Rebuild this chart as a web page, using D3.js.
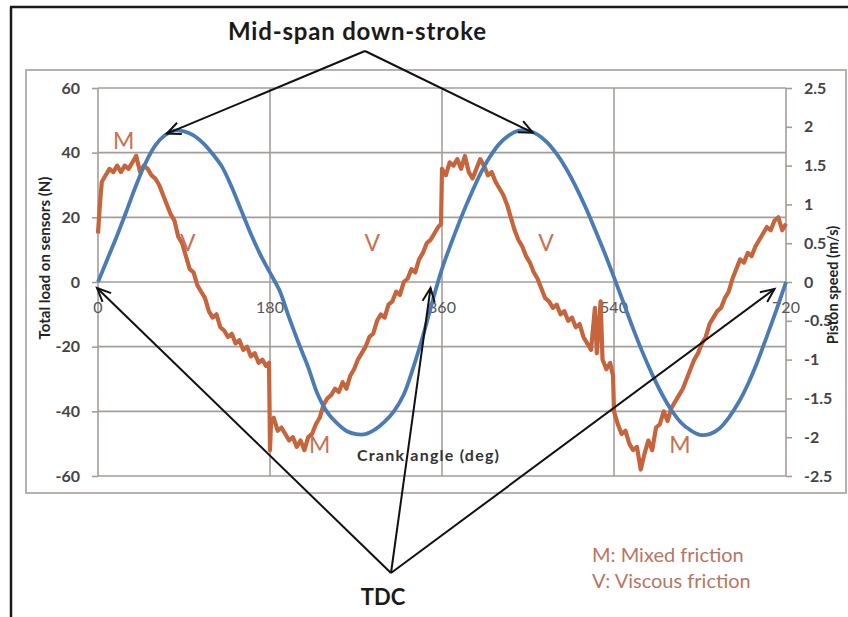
<!DOCTYPE html>
<html><head><meta charset="utf-8">
<script src="https://cdn.jsdelivr.net/npm/d3@7"></script>
<style>
html,body{margin:0;padding:0;background:#fff;}
svg{display:block;font-family:Lato,"Open Sans",sans-serif;}
</style></head>
<body>
<svg id="c" width="848" height="617"></svg>
<script>
// ---------- data ----------
const xTicks = [0, 180, 360, 540, 720];
const loadTicks = [-60, -40, -20, 0, 20, 40, 60];
const loadTickLabels = ["-60", "-40", "-20", "0", "20", "40", "60"];
const speedTicks = [-2.5, -2, -1.5, -1, -0.5, 0, 0.5, 1, 1.5, 2, 2.5];
const speedTickLabels = ["-2.5","-2","-1.5","-1","-0.5","0","0.5","1","1.5","2","2.5"];

// Piston speed (m/s), every 10 deg
const speedAngle = d3.range(0, 721, 10);
const speedValue = [
  0, 0.30, 0.60, 0.92, 1.25, 1.54, 1.76, 1.89, 1.95, 1.94, 1.89, 1.79, 1.65, 1.48, 1.22, 0.92, 0.62, 0.35, 0.12,
  -0.11, -0.46, -0.79, -1.10, -1.45, -1.68, -1.82, -1.92, -1.96, -1.96, -1.90, -1.80, -1.66, -1.45, -1.10, -0.70, -0.25,
  0.17, 0.51, 0.83, 1.12, 1.39, 1.61, 1.78, 1.89, 1.95, 1.95, 1.90, 1.80, 1.65, 1.46, 1.23, 0.97, 0.68, 0.38, 0.06,
  -0.27, -0.60, -0.91, -1.19, -1.44, -1.65, -1.81, -1.91, -1.97, -1.96, -1.89, -1.75, -1.56, -1.32, -1.03, -0.70, -0.36, 0
];

// Total load on sensors (N)
const loadAngle = [
  0,2,4,8,12,16,20,24,28,32,36,40,44,48,52,56,60,64,68,72,76,80,84,88,92,96,100,104,108,112,116,120,124,128,132,136,140,144,148,152,156,160,164,168,172,176,179,
  180,181,184,188,192,196,200,204,208,212,216,220,224,228,232,236,240,244,248,252,256,260,264,268,272,276,280,284,288,292,296,300,304,308,312,316,320,324,328,332,336,340,344,348,352,356,359,
  360,364,368,372,376,380,384,388,392,396,400,404,408,412,416,420,424,428,432,436,440,444,448,452,456,460,464,468,472,476,480,484,488,492,496,500,504,508,512,516,520,522,526,528,532,536,539,
  540,544,548,552,556,560,564,568,572,576,580,584,588,592,596,600,604,608,612,616,620,624,628,632,636,640,644,648,652,656,660,664,668,672,676,680,684,688,692,696,700,704,708,712,716,720
];
const loadValue = [
  15,24,31,33,35,34,36,34,36,35,37,39,34,36,35,33,32,30,27,24,21,19,14,12,8,4,3,-1,-3,-5,-9,-11,-10,-14,-15,-17,-16,-19,-18,-21,-20,-23,-22,-25,-24,-26,-25,
  -52,-44,-42,-46,-45,-47,-49,-48,-51,-49,-52,-48,-47,-44,-42,-38,-36,-35,-33,-34,-31,-33,-29,-27,-24,-22,-20,-17,-16,-12,-10,-11,-7,-6,-3,-4,0,1,4,3,7,9,12,13,15,17,18,
  35,33,37,36,38,35,39,34,32,35,38,36,33,34,31,29,27,24,20,16,13,11,8,6,3,1,-2,-5,-6,-8,-7,-10,-9,-12,-11,-14,-13,-17,-19,-21,-8,-22,-6,-24,-27,-25,-29,
  -40,-44,-47,-46,-50,-52,-51,-58,-53,-49,-52,-45,-44,-40,-43,-39,-37,-35,-33,-30,-27,-24,-22,-19,-17,-13,-11,-9,-8,-5,-3,1,4,7,6,9,8,11,13,15,17,16,19,20,16,18
];

// In-plot region labels
const regionLabel = ["M", "V", "V", "V", "M", "M"];
const regionAngle = [27, 94, 287, 469, 232, 609];
const regionLoad  = [41, 9.5, 9.5, 9.5, -53, -53];

const legendLines = ["M: Mixed friction", "V: Viscous friction"];

// ---------- layout ----------
const svg = d3.select("#c");
const x = d3.scaleLinear().domain([0, 720]).range([98, 786]);
const yL = d3.scaleLinear().domain([-60, 60]).range([476, 88]);
const yR = d3.scaleLinear().domain([-2.5, 2.5]).range([476, 88]);

const gridCol = "#a59d99";
const orange = "#c6643c";
const blue = "#4a7bb4";
const labCol = "#c8714f";

// outer frame lines
svg.append("line").attr("x1", 10).attr("x2", 848).attr("y1", 7).attr("y2", 7).attr("stroke", "#1a1a1a").attr("stroke-width", 2.5);
svg.append("line").attr("x1", 11).attr("x2", 11).attr("y1", 7).attr("y2", 617).attr("stroke", "#1a1a1a").attr("stroke-width", 2.5);

// chart box
svg.append("rect").attr("x", 26).attr("y", 70).attr("width", 820).attr("height", 423)
  .attr("fill", "none").attr("stroke", "#b8b1ae").attr("stroke-width", 2);

// grid
const g = svg.append("g");
g.selectAll(".hg").data(loadTicks).join("line")
  .attr("x1", x(0)).attr("x2", x(720)).attr("y1", d => yL(d)).attr("y2", d => yL(d))
  .attr("stroke", gridCol).attr("stroke-width", 1.6);
g.selectAll(".vg").data(xTicks).join("line")
  .attr("x1", d => x(d)).attr("x2", d => x(d)).attr("y1", yL(60)).attr("y2", yL(-60))
  .attr("stroke", gridCol).attr("stroke-width", 1.6);

// left axis ticks + labels
const axL = d3.axisLeft(yL).tickValues(loadTicks).tickFormat((d, i) => loadTickLabels[i]).tickSize(6).tickPadding(12);
const gL = svg.append("g").attr("transform", `translate(${x(0)},0)`).call(axL);
gL.select(".domain").remove();
gL.selectAll(".tick line").attr("stroke", gridCol).attr("stroke-width", 1.6);
gL.selectAll(".tick text").attr("font-family", "Lato").attr("font-weight", "bold")
  .attr("font-size", 16).attr("fill", "#444");

// right axis
const axR = d3.axisRight(yR).tickValues(speedTicks).tickFormat((d, i) => speedTickLabels[i]).tickSize(6).tickPadding(12);
const gR = svg.append("g").attr("transform", `translate(${x(720)},0)`).call(axR);
gR.select(".domain").remove();
gR.selectAll(".tick line").attr("stroke", gridCol).attr("stroke-width", 1.6);
gR.selectAll(".tick text").attr("font-family", "Lato").attr("font-weight", "bold")
  .attr("font-size", 16).attr("fill", "#444");

// x tick labels under zero line
svg.append("g").selectAll("text").data(xTicks).join("text")
  .attr("x", d => x(d)).attr("y", yL(0) + 31)
  .attr("text-anchor", "middle").attr("font-size", 16).attr("fill", "#555")
  .text(d => d);

// axis titles
svg.append("text").attr("x", 357).attr("y", 461).attr("font-size", 16).attr("font-weight", "bold")
  .attr("textLength", 142).attr("lengthAdjust", "spacing")
  .attr("fill", "#333").text("Crank angle  (deg)");
svg.append("text").attr("transform", "translate(50,258) rotate(-90)").attr("text-anchor", "middle")
  .attr("font-size", 15).attr("font-weight", "bold").attr("fill", "#222").text("Total load on sensors (N)");
svg.append("text").attr("transform", "translate(838,285) rotate(-90)").attr("text-anchor", "middle")
  .attr("font-size", 14.5).attr("font-weight", "bold").attr("fill", "#222").text("Piston speed (m/s)");

// load line
const loadPts = loadAngle.map((a, i) => [a, loadValue[i]]);
svg.append("path").datum(loadPts)
  .attr("d", d3.line().x(d => x(d[0])).y(d => yL(d[1])))
  .attr("fill", "none").attr("stroke", orange).attr("stroke-width", 4.2).attr("stroke-linejoin", "round");

// speed line
const speedPts = speedAngle.map((a, i) => [a, speedValue[i]]);
svg.append("path").datum(speedPts)
  .attr("d", d3.line().x(d => x(d[0])).y(d => yR(d[1])).curve(d3.curveCatmullRom))
  .attr("fill", "none").attr("stroke", blue).attr("stroke-width", 3.8);

// region labels
svg.append("g").selectAll("text").data(regionLabel).join("text")
  .attr("x", (d, i) => x(regionAngle[i])).attr("y", (d, i) => yL(regionLoad[i]))
  .attr("text-anchor", "middle").attr("font-size", 23).attr("fill", labCol)
  .text(d => d);

// arrows
function arrow(x1, y1, x2, y2) {
  const a = svg.append("g");
  a.append("line").attr("x1", x1).attr("y1", y1).attr("x2", x2).attr("y2", y2)
    .attr("stroke", "#111").attr("stroke-width", 2);
  const ang = Math.atan2(y2 - y1, x2 - x1);
  const L = 15, w = 0.42;
  const p1 = [x2 - L * Math.cos(ang - w), y2 - L * Math.sin(ang - w)];
  const p2 = [x2 - L * Math.cos(ang + w), y2 - L * Math.sin(ang + w)];
  a.append("path").attr("d", `M${p1[0]},${p1[1]}L${x2},${y2}L${p2[0]},${p2[1]}`)
    .attr("fill", "none").attr("stroke", "#111").attr("stroke-width", 2);
}
const midApex = [365, 51];
arrow(midApex[0], midApex[1], x(72), yR(1.95) + 3);
arrow(midApex[0], midApex[1], x(455), yR(1.95) + 2);
const tdcApex = [391, 573];
arrow(tdcApex[0], tdcApex[1], x(0) - 1, yL(0) + 6);
arrow(tdcApex[0], tdcApex[1], x(348), yL(0) + 6);
arrow(tdcApex[0], tdcApex[1], x(708), yL(0) + 7);

// title & TDC
svg.append("text").attr("x", 228).attr("y", 40).attr("font-size", 24).attr("font-weight", "bold")
  .attr("textLength", 258).attr("lengthAdjust", "spacing")
  .attr("fill", "#1a1a1a").text("Mid-span down-stroke");
svg.append("text").attr("x", 383).attr("y", 605).attr("text-anchor", "middle").attr("font-size", 22)
  .attr("font-weight", "bold").attr("fill", "#1a1a1a").text("TDC");

// legend
svg.append("g").selectAll("text").data(legendLines).join("text")
  .attr("x", 592).attr("y", (d, i) => 562 + i * 26)
  .attr("font-size", 20).attr("fill", "#b9755e").text(d => d);
</script>
</body></html>
